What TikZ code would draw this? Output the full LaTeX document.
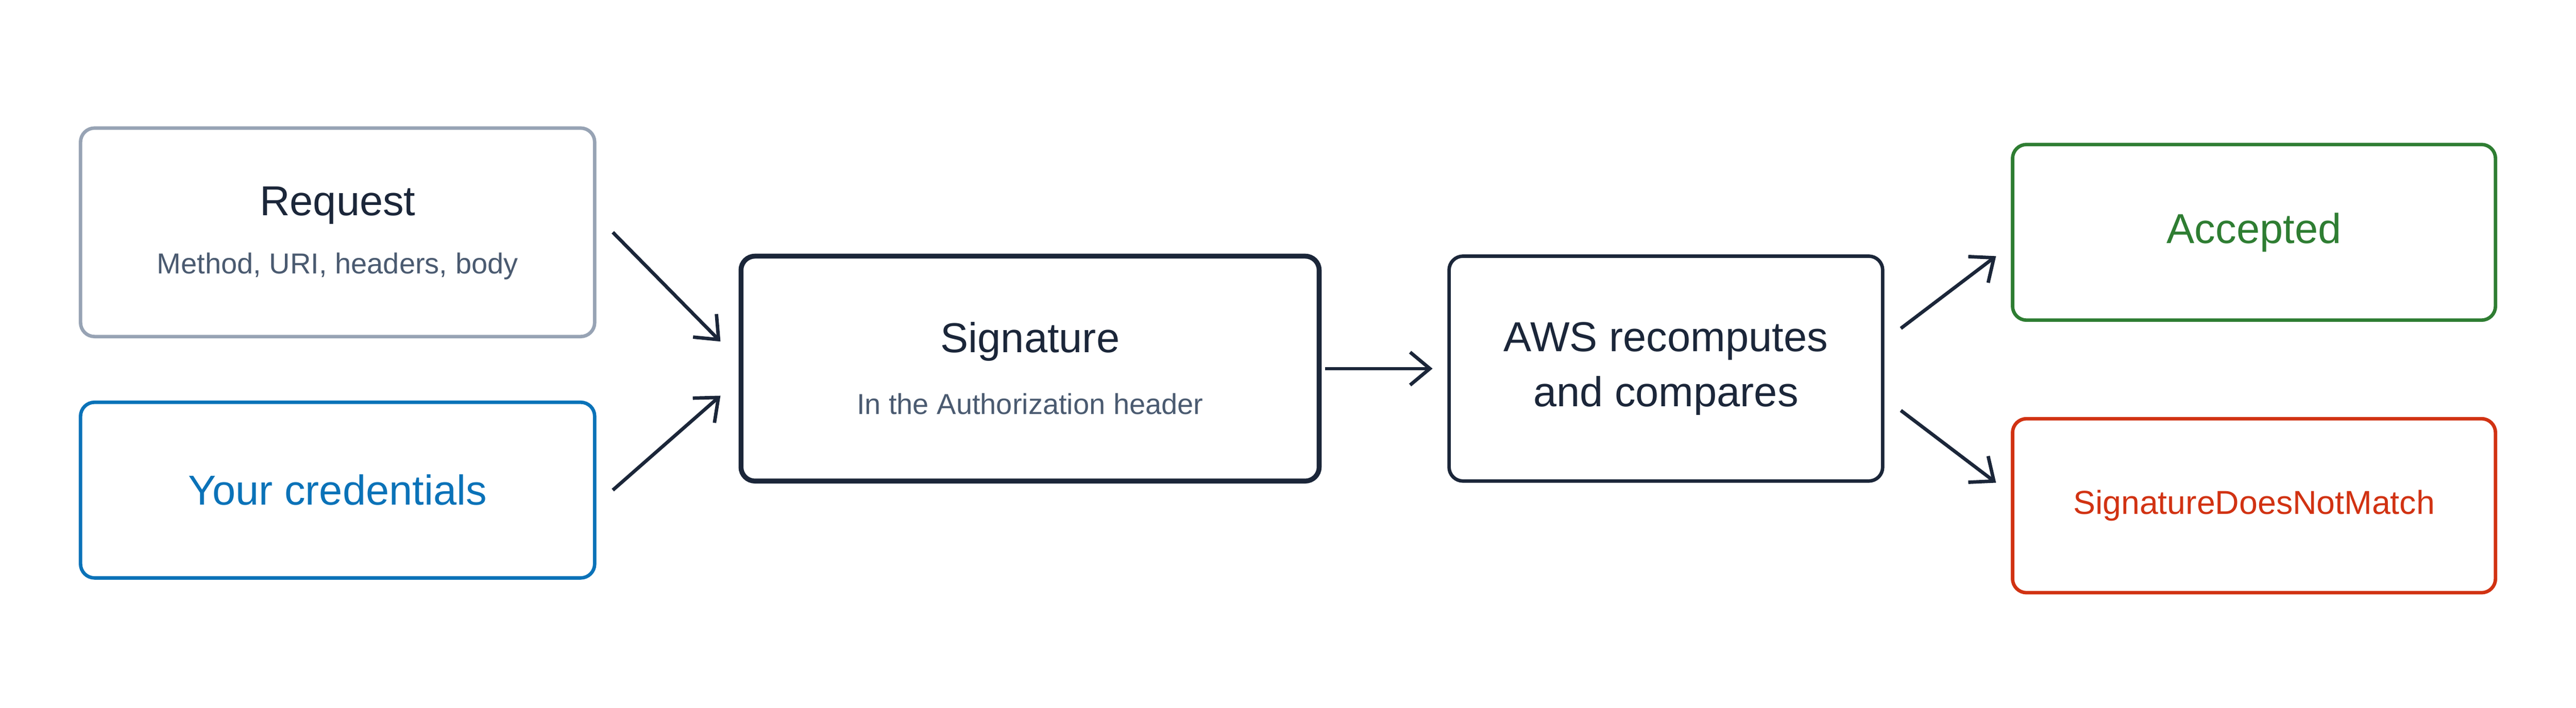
\documentclass[tikz,border=0pt]{standalone}
\usepackage{fontspec}
\setmainfont{Liberation Sans}
\usetikzlibrary{arrows.meta}
\definecolor{ink}{HTML}{1B2639}
\definecolor{muted}{HTML}{4A5A70}
\definecolor{edge}{HTML}{97A3B4}
\definecolor{credblue}{HTML}{0A72B8}
\definecolor{okgreen}{HTML}{2E7D32}
\definecolor{badred}{HTML}{D13212}
\tikzset{
  box/.style={draw=ink, line width=1.2pt, rounded corners=0.17cm, align=center, inner sep=0pt},
  arr/.style={draw=ink, line width=1.2pt, -{Straight Barb[length=0.24cm,width=0.4cm]}},
  title/.style={font={\fontsize{14.5pt}{17}\selectfont}},
  sub/.style={font={\fontsize{10pt}{12}\selectfont}, text=muted}}
\begin{document}
\begin{tikzpicture}[x=0.02cm, y=-0.02cm]
\useasboundingbox (0,0) rectangle (1568,431);
% left inputs
\node [box, draw=edge, minimum width=6.26cm, minimum height=2.54cm] (req) at (205.5,141.5) {};
\node [title, text=ink] at (205.5,125) {Request};
\node [sub] at (205.5,162) {Method, URI, headers, body};
\node [box, draw=credblue, title, text=credblue, minimum width=6.26cm, minimum height=2.14cm] (cred) at (205.5,298.5) {Your credentials};
% signing
\node [box, line width=1.7pt, minimum width=7.04cm, minimum height=2.74cm] (sig) at (627,224.5) {};
\node [title, text=ink] at (627,208) {Signature};
\node [sub] at (627,246) {In the Authorization header};
\node [box, title, text=ink, minimum width=5.28cm, minimum height=2.74cm] (aws) at (1014,224.5) {AWS recomputes\\[2pt]and compares};
% results
\node [box, draw=okgreen, title, text=okgreen, minimum width=5.88cm, minimum height=2.14cm] (acc) at (1372,141.5) {Accepted};
\node [box, draw=badred, text=badred, font={\fontsize{11.5pt}{14}\selectfont}, minimum width=5.88cm, minimum height=2.12cm] (rej) at (1372,308) {SignatureDoesNotMatch};
% connectors
\draw [arr] ([xshift=0.2cm]req.east) -- ([xshift=-0.22cm,yshift=0.33cm]sig.west);
\draw [arr] ([xshift=0.2cm]cred.east) -- ([xshift=-0.22cm,yshift=-0.33cm]sig.west);
\draw [arr] ([xshift=0.04cm]sig.east) -- ([xshift=-0.18cm]aws.west);
\draw [arr] ([xshift=0.2cm,yshift=0.49cm]aws.east) -- ([xshift=-0.18cm,yshift=-0.29cm]acc.west);
\draw [arr] ([xshift=0.2cm,yshift=-0.51cm]aws.east) -- ([xshift=-0.18cm,yshift=0.28cm]rej.west);
\end{tikzpicture}
\end{document}
